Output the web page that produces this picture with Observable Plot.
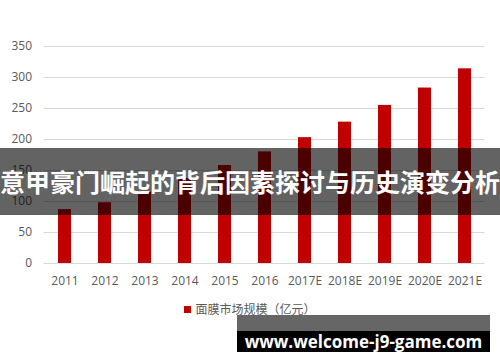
<!DOCTYPE html>
<html>
<head>
<meta charset="utf-8">
<script src="https://cdn.jsdelivr.net/npm/d3@7"></script>
<script src="https://cdn.jsdelivr.net/npm/@observablehq/plot@0.6"></script>
<style>
  html, body { margin: 0; padding: 0; background: #fff; }
  #wrap { position: relative; width: 500px; height: 362px; overflow: hidden; font-family: "Noto Sans CJK SC", "Open Sans", sans-serif; }
  #chart svg { display: block; }
  #legend { position: absolute; left: 0; width: 500px; top: 300px; text-align: center; font-size: 12px; color: #595959; font-family: "Noto Sans CJK SC", sans-serif; }
  #legend .sw { display: inline-block; width: 7px; height: 7px; background: #C00000; margin-right: 4px; vertical-align: 1px; }
  #band { position: absolute; left: 0; top: 148px; width: 500px; height: 67px; background: rgba(0,0,0,0.61); color: #fff; font-weight: bold; font-size: 25px; line-height: 67px; text-align: center; white-space: nowrap; font-family: "Noto Sans CJK SC", sans-serif; }
  #urlgray { position: absolute; left: 237px; top: 315px; width: 253px; height: 16px; background: #666; }
  #url { position: absolute; left: 237px; top: 331px; width: 253px; height: 21px; background: #000; color: #fff; font-weight: bold; font-size: 17px; line-height: 21px; text-align: center; font-family: "Open Sans", "DejaVu Sans", sans-serif; white-space: nowrap; }
</style>
</head>
<body>
<div id="wrap">
  <div id="chart"></div>
  <div id="legend"></div>
  <div id="band"></div>
  <div id="urlgray"></div>
  <div id="url"></div>
</div>
<script>
const years = ["2011","2012","2013","2014","2015","2016","2017E","2018E","2019E","2020E","2021E"];
const values = [87, 98, 115, 137, 158, 180, 203, 228, 255, 283, 314];
const yTicks = [0, 50, 100, 150, 200, 250, 300, 350];
const seriesName = "面膜市场规模（亿元）";
const bannerText = "意甲豪门崛起的背后因素探讨与历史演变分析";
const urlText = "www.welcome-j9-game.com";

const data = years.map((y, i) => ({year: y, value: values[i]}));

const chart = Plot.plot({
  width: 500,
  height: 295,
  marginTop: 46,
  marginBottom: 32,
  marginLeft: 43.5,
  marginRight: 15.5,
  style: { fontFamily: "'Open Sans', 'Noto Sans CJK SC', sans-serif", fontSize: "12px", color: "#595959", background: "#fff" },
  x: { domain: years, paddingInner: 0.675, paddingOuter: 0.3375, align: 0.5, label: null },
  y: { domain: [0, 350], ticks: yTicks, label: null },
  marks: [
    Plot.gridY(yTicks, { stroke: "#d9d9d9", strokeOpacity: 1, strokeWidth: 1 }),
    Plot.barY(data, { x: "year", y: "value", fill: "#C00000" }),
    Plot.axisX({ tickSize: 0, tickPadding: 13, fill: "#595959", fontSize: 12 }),
    Plot.axisY(yTicks, { tickSize: 0, tickPadding: 12, fill: "#595959", fontSize: 12 })
  ]
});
document.getElementById("chart").appendChild(chart);

document.getElementById("legend").innerHTML = '<span class="sw"></span>' + seriesName;
document.getElementById("band").textContent = bannerText;
document.getElementById("url").textContent = urlText;
</script>
</body>
</html>
